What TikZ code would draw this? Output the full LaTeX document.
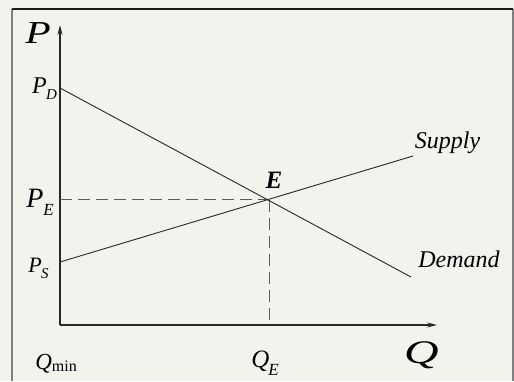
\documentclass[tikz,border=0pt]{standalone}
\usepackage{fontspec}
\setmainfont{Liberation Serif}
\usetikzlibrary{arrows.meta}
\definecolor{bgc}{RGB}{243,243,238}
\definecolor{framegray}{RGB}{128,128,128}
\definecolor{axisc}{RGB}{40,40,40}
\definecolor{dashc}{RGB}{90,90,90}
\newcommand\fsz[1]{\fontsize{#1}{#1}\selectfont}
\newcommand\lowsub[4]{#1\kern#4\raisebox{-#3}{#2}}
\tikzset{
  lbl/.style={inner sep=0pt, anchor=base, font=\itshape},
  curve/.style={line width=0.9pt, draw=black!85},
  axisline/.style={line width=1.1pt, draw=axisc, -{Stealth[length=10pt,width=5pt]}},
  guide/.style={line width=0.9pt, draw=dashc, dash pattern=on 12pt off 6pt},
}
\begin{document}
\begin{tikzpicture}[x=1pt,y=-1pt]
\useasboundingbox (0,0) rectangle (514,381);
\fill[bgc] (0,0) rectangle (514,381);
% frame
\draw[framegray, line width=1.5pt] (12,9) -- (12,381);
\draw[framegray, line width=1.5pt] (513,9) -- (513,381);
\draw[black!90, line width=1.5pt] (12,9) -- (513,9);
% points
\coordinate (O) at (60,325);
\coordinate (ytip) at (60,25);
\coordinate (xtip) at (437,325);
\coordinate (PD) at (60,88);
\coordinate (Dend) at (411,277);
\coordinate (PS) at (60,262);
\coordinate (Send) at (413,156);
\coordinate (E) at (269,199.5);
\coordinate (PEax) at (60,199.5);
\coordinate (QEax) at (269,325);
% axes
\draw[axisline] (O) -- (ytip);
\draw[axisline] (O) -- (xtip);
% guides
\draw[guide] (PEax) -- (E);
\draw[guide] (E) -- (QEax);
% curves
\draw[curve] (PD) -- (Dend);
\draw[curve] (PS) -- (Send);
% labels
\node[lbl, font=\itshape\fsz{32}] (lP) at (38,43) {\scalebox{1.3}[1]{P}};
\node[lbl, font=\itshape\fsz{24}] (lPD) at (44.5,93) {\lowsub{P}{\fsz{15}D}{6pt}{-0.5pt}};
\node[lbl, font=\itshape\fsz{28}] (lPE) at (40,207) {\lowsub{P}{\fsz{17}E}{8pt}{0pt}};
\node[lbl, font=\itshape\fsz{22}] (lPS) at (38.5,272) {\lowsub{P}{\fsz{15}S}{6pt}{-0.5pt}};
\node[lbl, font=\itshape\fsz{23}] (lQmin) at (56,369) {Q\raisebox{-2pt}{\upshape\fsz{16}min}};
\node[lbl, font=\itshape\fsz{25}] (lQE) at (265,367) {\lowsub{Q}{\fsz{17}E}{8pt}{-1pt}};
\node[lbl, font=\itshape\fsz{33}] (lQ) at (421.5,363) {\scalebox{1.45}[1]{Q}};
\node[lbl, font=\bfseries\itshape\fsz{25}] (lE) at (274,188) {E};
\node[lbl, font=\itshape\fsz{24}] (lSupply) at (447.5,148) {Supply};
\node[lbl, font=\itshape\fsz{24}] (lDemand) at (459,267) {Demand};
\end{tikzpicture}
\end{document}
